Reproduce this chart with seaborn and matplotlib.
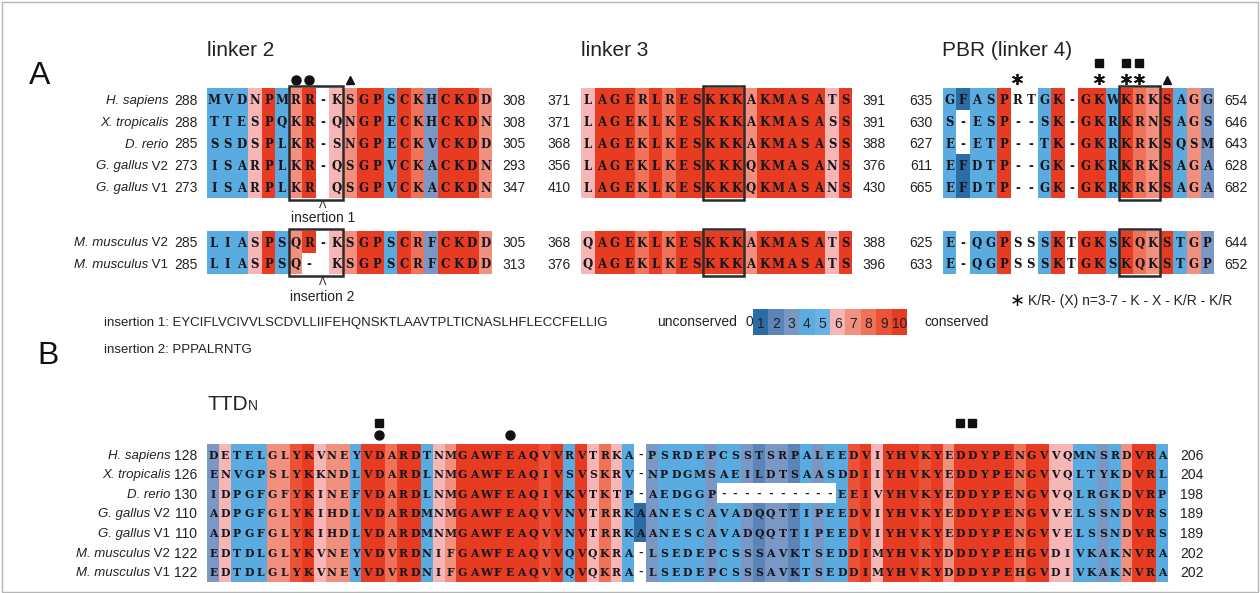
import numpy as np
import pandas as pd
import seaborn as sns
import matplotlib.pyplot as plt
import matplotlib.transforms as mtransforms
from matplotlib.colors import ListedColormap
from matplotlib.patches import Rectangle

plt.rcParams['font.family'] = ['Liberation Sans', 'DejaVu Sans']

W, H = 1260, 593
fig = plt.figure(figsize=(W / 100, H / 100), dpi=100)

# ---------------------------------------------------------------- data
nan = np.nan

species_top = ["H. sapiens", "X. tropicalis", "D. rerio", "G. gallus V2", "G. gallus V1"]
species_mouse = ["M. musculus V2", "M. musculus V1"]
species_all = species_top + species_mouse

# linker 2
linker2_seqs = ["MVDNPMRR-KSGPSCKHCKDD",
                "TTESPQKR-QNGPECKHCKDN",
                "SSDSPLKR-SNGPECKVCKDD",
                "ISARPLKR-QSGPVCKACKDN",
                "ISARPLKR QSGPVCKACKDN"]
linker2_start = [288, 288, 285, 273, 273]
linker2_end = [308, 308, 305, 293, 347]
linker2_mouse_seqs = ["LIASPSQR-KSGPSCRFCKDD",
                      "LIASPSQ- KSGPSCRFCKDD"]
linker2_mouse_start = [285, 285]
linker2_mouse_end = [305, 313]
linker2_score = [4, 4, 4, 6, 10, 4, 7, 10, nan, 6, 7, 10, 10, 4, 10, 8, 3, 10, 10, 10, 7]

# linker 3
linker3_seqs = ["LAGERLRESKKKAKMASATS",
                "LAGEKLKESKKKAKMASASS",
                "LAGEKLKESKKKAKMASASS",
                "LAGEKLKESKKKQKMASANS",
                "LAGEKLKESKKKQKMASANS"]
linker3_start = [371, 371, 368, 356, 410]
linker3_end = [391, 391, 388, 376, 430]
linker3_mouse_seqs = ["QAGEKLKESKKKAKMASATS",
                      "QAGEKLKESKKKAKMASATS"]
linker3_mouse_start = [368, 376]
linker3_mouse_end = [388, 396]
linker3_score = [6, 10, 10, 10, 8, 10, 8, 10, 10, 10, 10, 10, 7, 10, 10, 10, 10, 10, 6, 10]

# PBR (linker 4)
pbr_seqs = ["GFASPRTGK-GKWKRKSAGG",
            "S-ESP--SK-GKRKRNSAGS",
            "E-ETP--TK-GKRKRKSQSM",
            "EFDTP--GK-GKRKRKSAGA",
            "EFDTP--GK-GKRKRKSAGA"]
pbr_start = [635, 630, 627, 611, 665]
pbr_end = [654, 646, 643, 628, 682]
pbr_mouse_seqs = ["E-QGPSSSKTGKSKQKSTGP",
                  "E-QGPSSSKTGKSKQKSTGP"]
pbr_mouse_start = [625, 633]
pbr_mouse_end = [644, 652]
pbr_score = [4, 1, 4, 4, 10, nan, nan, 4, 10, nan, 10, 10, 4, 10, 8, 7, 10, 4, 7, 3]

# TTD-N
ttd_seqs = ["DETELGLYKVNEYVDARDTNMGAWFEAQVVRVTRKA-PSRDEPCSSTSRPALEEDVIYHVKYEDDYPENGVVQMNSRDVRA",
            "ENVGPSLYKKNDLVDARDLNMGAWFEAQIVSVSKRV-NPDGMSAEILDTSAASDDIIYHVKYEDDYPENGVVQLTYKDVRL",
            "IDPGFGFYKINEFVDARDLNMGAWFEAQIVKVTKTP-AEDGGP----------EEIVYHVKYEDDYPENGVVQLRGKDVRP",
            "ADPGFGLYKIHDLVDARDMNMGAWFEAQVVNVTRRKAANESCAVADQQTTIPEEDVIYHVKYEDDYPENGVVELSSNDVRS",
            "ADPGFGLYKIHDLVDARDMNMGAWFEAQVVNVTRRKAANESCAVADQQTTIPEEDVIYHVKYEDDYPENGVVELSSNDVRS",
            "EDTDLGLYKVNEYVDVRDNIFGAWFEAQVVQVQKRA-LSEDEPCSSSAVKTSEDDIMYHVKYDDDYPEHGVDIVKAKNVRA",
            "EDTDLGLYKVNEYVDVRDNIFGAWFEAQVVQVQKRA-LSEDEPCSSSAVKTSEDDIMYHVKYDDDYPEHGVDIVKAKNVRA"]
ttd_start = [128, 126, 130, 110, 110, 122, 122]
ttd_end = [206, 204, 198, 189, 189, 202, 202]
ttd_score = [3, 6, 4, 4, 4, 7, 7, 9, 10, 6, 7, 7, 4, 10, 10, 8, 10, 10, 4, 6,
             7, 10, 10, 10, 10, 10, 10, 10, 9, 10, 4, 10, 6, 8, 6, 4, 1, 3, 4, 4,
             4, 4, 3, 4, 4, 3, 2, 3, 3, 2, 4, 3, 4, 4, 9, 10, 6, 10, 10, 10,
             9, 10, 7, 10, 10, 10, 10, 10, 8, 10, 10, 6, 6, 4, 4, 3, 4, 7, 10, 10, 4]

legend_scores = [1, 2, 3, 4, 5, 6, 7, 8, 9, 10]

insertion1 = "EYCIFLVCIVVLSCDVLLIIFEHQNSKTLAAVTPLTICNASLHFLECCFELLIG"
insertion2 = "PPPALRNTG"
motif = "K/R- (X) n=3-7 - K - X - K/R - K/R"

# ---------------------------------------------------------------- style
# first entry: unscored / gap cells, then conservation 0..10
palette = ['#ffffff', '#1d5b95', '#2c6ca6', '#5b84b8', '#7b97c3', '#5aabe0', '#68b3e3',
           '#f6b6b5', '#f2907f', '#ef7259', '#ec5237', '#e83c22']
cmap = ListedColormap(palette)
INK = '#15151d'
TXT = '#222222'
RESIDUE_FONT = 'DejaVu Serif'


def px_axes(left, top, width, height):
    return fig.add_axes([left / W, 1 - (top + height) / H, width / W, height / H])


def shift(ax, dx, dy=0):
    return mtransforms.offset_copy(ax.transData, fig=fig, x=dx, y=dy, units='dots')


def block(left, top, cw, rh, seqs, scores, starts, ends, fs=8.5, dl=-10, dr=10, nfs=10):
    nr, nc = len(seqs), len(seqs[0])
    ax = px_axes(left, top, nc * cw, nr * rh)
    letters = np.array([list(s) for s in seqs])
    vals = np.array([[-1.0 if (ch in '- ' or np.isnan(scores[j])) else scores[j]
                      for j, ch in enumerate(s)] for s in seqs])
    sns.heatmap(pd.DataFrame(vals), ax=ax, cmap=cmap, vmin=-1.5, vmax=10.5, cbar=False,
                annot=letters, fmt='',
                annot_kws=dict(family=RESIDUE_FONT, weight='bold', size=fs,
                               color=INK, va='center_baseline'),
                xticklabels=False, yticklabels=False)
    ax.set_xlabel('')
    ax.set_ylabel('')
    ax.set_autoscale_on(False)
    for i in range(nr):
        ax.text(0, i + 0.5, str(starts[i]), transform=shift(ax, dl), ha='right',
                va='center_baseline', fontsize=nfs, color=TXT)
        ax.text(nc, i + 0.5, str(ends[i]), transform=shift(ax, dr), ha='left',
                va='center_baseline', fontsize=nfs, color=TXT)
    return ax


def species_labels(ax, names, dx, fs=9.5):
    tr = shift(ax, dx)
    for i, name in enumerate(names):
        head, _, tail = name.rpartition(' ')
        if tail in ('V1', 'V2'):
            t = ax.text(0, i + 0.5, ' ' + tail, transform=tr, ha='right',
                        va='center_baseline', fontsize=fs, color=TXT)
            ax.annotate(head, xy=(0, 0), xycoords=t, ha='right', va='bottom',
                        fontsize=fs, style='italic', color=TXT)
        else:
            ax.text(0, i + 0.5, name, transform=tr, ha='right', va='center_baseline',
                    fontsize=fs, style='italic', color=TXT)


def frame(ax, c0, n, pad=0.09):
    nr = ax.get_ylim()[0]
    ax.add_patch(Rectangle((c0, -pad), n, nr + 2 * pad, fill=False, lw=1.8,
                           ec='#2b2b2b', clip_on=False, zorder=5))


def mark(ax, cols, y, kind):
    style = {'circle': dict(marker='o', ms=6.5),
             'square': dict(marker='s', ms=6),
             'triangle': dict(marker='^', ms=6),
             'star': dict(marker=(6, 2, 0), ms=8, mew=1.3)}[kind]
    ax.plot([c + 0.5 for c in cols], [y] * len(cols), ls='none', color='#111111',
            clip_on=False, **style)


# ---------------------------------------------------------------- page
bg = fig.add_axes([0, 0, 1, 1])
bg.set_xlim(0, W)
bg.set_ylim(H, 0)
bg.axis('off')
bg.add_patch(Rectangle((1.5, 1.5), W - 4, H - 3, fill=False, ec='#b5b5b5', lw=1))

bg.text(29, 76, "A", fontsize=23, ha='left', va='center', color='#111111')
bg.text(37, 356, "B", fontsize=23, ha='left', va='center', color='#111111')

bg.text(207, 51, "linker 2", fontsize=15, ha='left', va='center', color=TXT)
bg.text(581, 51, "linker 3", fontsize=15, ha='left', va='center', color=TXT)
bg.text(942, 51, "PBR (linker 4)", fontsize=15, ha='left', va='center', color=TXT)
ttd = bg.text(207, 404, "TTD", fontsize=15, ha='left', va='center', color=TXT)
bg.annotate("N", xy=(1, 0), xycoords=ttd, ha='left', va='bottom', fontsize=10, color=TXT)

CW = 13.57
TOP_A, RH_A = 88, 22
TOP_M, RH_M = 231, 21.5

l2 = block(207.3, TOP_A, CW, RH_A, linker2_seqs, linker2_score, linker2_start, linker2_end)
species_labels(l2, species_top, -39)
frame(l2, 6, 4)
mark(l2, [6, 7], -0.38, 'circle')
mark(l2, [10], -0.36, 'triangle')
l2.text(8.5, 5.3, "Λ", ha='center', va='center', fontsize=8, color=TXT)
l2.text(8.5, 5.92, "insertion 1", ha='center', va='center', fontsize=10, color=TXT)

l2m = block(207.3, TOP_M, CW, RH_M, linker2_mouse_seqs, linker2_score,
            linker2_mouse_start, linker2_mouse_end)
species_labels(l2m, species_mouse, -39)
frame(l2m, 6, 4, pad=0.1)
l2m.text(8.5, 2.38, "Λ", ha='center', va='center', fontsize=8, color=TXT)
l2m.text(8.5, 3.05, "insertion 2", ha='center', va='center', fontsize=10, color=TXT)

l3 = block(581, TOP_A, CW, RH_A, linker3_seqs, linker3_score, linker3_start, linker3_end)
frame(l3, 9, 3)
l3m = block(581, TOP_M, CW, RH_M, linker3_mouse_seqs, linker3_score,
            linker3_mouse_start, linker3_mouse_end)
frame(l3m, 9, 3, pad=0.1)

pb = block(942.7, TOP_A, CW, RH_A, pbr_seqs, pbr_score, pbr_start, pbr_end)
frame(pb, 13, 3)
mark(pb, [5, 11, 13, 14], -0.4, 'star')
mark(pb, [11, 13, 14], -1.13, 'square')
mark(pb, [16], -0.38, 'triangle')
pbm = block(942.7, TOP_M, CW, RH_M, pbr_mouse_seqs, pbr_score, pbr_mouse_start, pbr_mouse_end)
frame(pbm, 13, 3, pad=0.1)

# bottom notes of panel A
bg.text(104, 323, "insertion 1: " + insertion1, fontsize=9.5, ha='left', va='center', color=TXT)
bg.text(104, 350, "insertion 2: " + insertion2, fontsize=9.5, ha='left', va='center', color=TXT)
bg.text(1010, 301, "∗", fontsize=13, ha='left', va='center', color='#111111')
bg.text(1028, 301, motif, fontsize=10, ha='left', va='center', color=TXT)

# conservation scale
bg.text(737, 322, "unconserved", fontsize=10, ha='right', va='center', color=TXT)
bg.text(745, 322, "0", fontsize=10, ha='left', va='center', color=TXT)
bg.text(924, 322, "conserved", fontsize=10, ha='left', va='center', color=TXT)
lg = px_axes(753, 309, 154, 26)
sns.heatmap(pd.DataFrame([legend_scores]), ax=lg, cmap=cmap, vmin=-1.5, vmax=10.5, cbar=False,
            annot=True, fmt='d', annot_kws=dict(size=10, color=TXT, va='center_baseline'),
            xticklabels=False, yticklabels=False)
lg.set_xlabel('')
lg.set_ylabel('')

# panel B alignment
tb = block(207.3, 444.3, 11.86, 19.6, ttd_seqs, ttd_score, ttd_start, ttd_end,
           fs=7.8, dl=-10, dr=12)
species_labels(tb, species_all, -37)
mark(tb, [14], -1.08, 'square')
mark(tb, [14], -0.47, 'circle')
mark(tb, [25], -0.45, 'circle')
mark(tb, [63, 64], -1.08, 'square')

fig.savefig("out.png", dpi=100)
